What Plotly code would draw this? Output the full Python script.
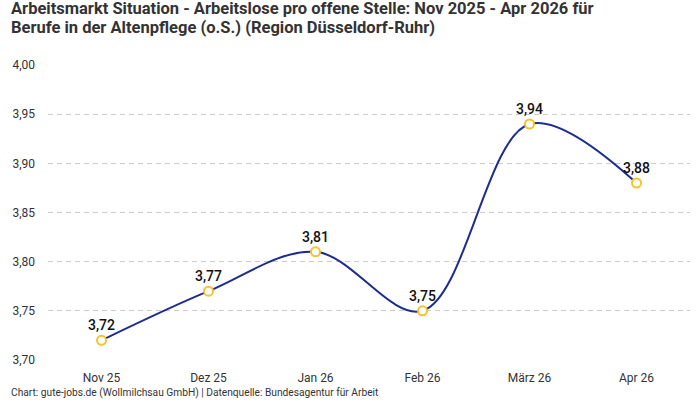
import plotly.graph_objects as go

months = ["Nov 25", "Dez 25", "Jan 26", "Feb 26", "März 26", "Apr 26"]
values = [3.72, 3.77, 3.81, 3.75, 3.94, 3.88]
tick_vals = [3.70, 3.75, 3.80, 3.85, 3.90, 3.95, 4.00]
tick_text = ["3,70", "3,75", "3,80", "3,85", "3,90", "3,95", "4,00"]
labels = [f"{v:.2f}".replace(".", ",") for v in values]
title_lines = [
    "Arbeitsmarkt Situation - Arbeitslose pro offene Stelle: Nov 2025 - Apr 2026 für",
    "Berufe in der Altenpflege (o.S.) (Region Düsseldorf-Ruhr)",
]

fig = go.Figure()
fig.add_trace(go.Scatter(
    x=months, y=values, mode="lines+markers+text",
    line=dict(color="#1c2d8f", width=2, shape="spline", smoothing=1.0),
    marker=dict(size=9, color="white", line=dict(color="#f8c22a", width=2)),
    text=labels, textposition="top center",
    textfont=dict(family="Roboto", size=14, color="#111111", weight=500),
    cliponaxis=False, hoverinfo="skip",
))

def py(p):
    return (360 - p) / 295

fig.update_layout(
    width=700, height=400,
    margin=dict(l=48, r=10, t=65, b=40),
    paper_bgcolor="white", plot_bgcolor="white",
    showlegend=False,
    xaxis=dict(
        type="category", range=[-0.5, 5.5], showgrid=False, zeroline=False,
        showline=False, ticks="", ticklabelstandoff=9,
        tickfont=dict(family="Roboto", size=12, color="#333333"),
    ),
    yaxis=dict(
        range=[3.70, 4.00], tickvals=tick_vals, ticktext=tick_text,
        showgrid=True, gridcolor="#cccccc", griddash="5px,4px", gridwidth=1,
        zeroline=False, showline=False, ticks="", ticklabelstandoff=12,
        tickfont=dict(family="Roboto", size=12, color="#333333"),
    ),
    annotations=[
        dict(
            text=f"<b>{title_lines[0]}</b>",
            xref="paper", yref="paper", x=-0.06, y=py(-3), xanchor="left", yanchor="top",
            align="left", showarrow=False,
            font=dict(family="Roboto", size=16.5, color="#333333"),
        ),
        dict(
            text=f"<b>{title_lines[1]}</b>",
            xref="paper", yref="paper", x=-0.06, y=py(16), xanchor="left", yanchor="top",
            align="left", showarrow=False,
            font=dict(family="Roboto", size=16.5, color="#333333"),
        ),
        dict(
            text="Chart: gute-jobs.de (Wollmilchsau GmbH) | Datenquelle: Bundesagentur für Arbeit",
            xref="paper", yref="paper", x=-0.06, y=-0.085, xanchor="left", yanchor="top",
            showarrow=False, font=dict(family="Roboto", size=10.2, color="#333333"),
        ),
    ],
)

fig.write_html("out.html")
